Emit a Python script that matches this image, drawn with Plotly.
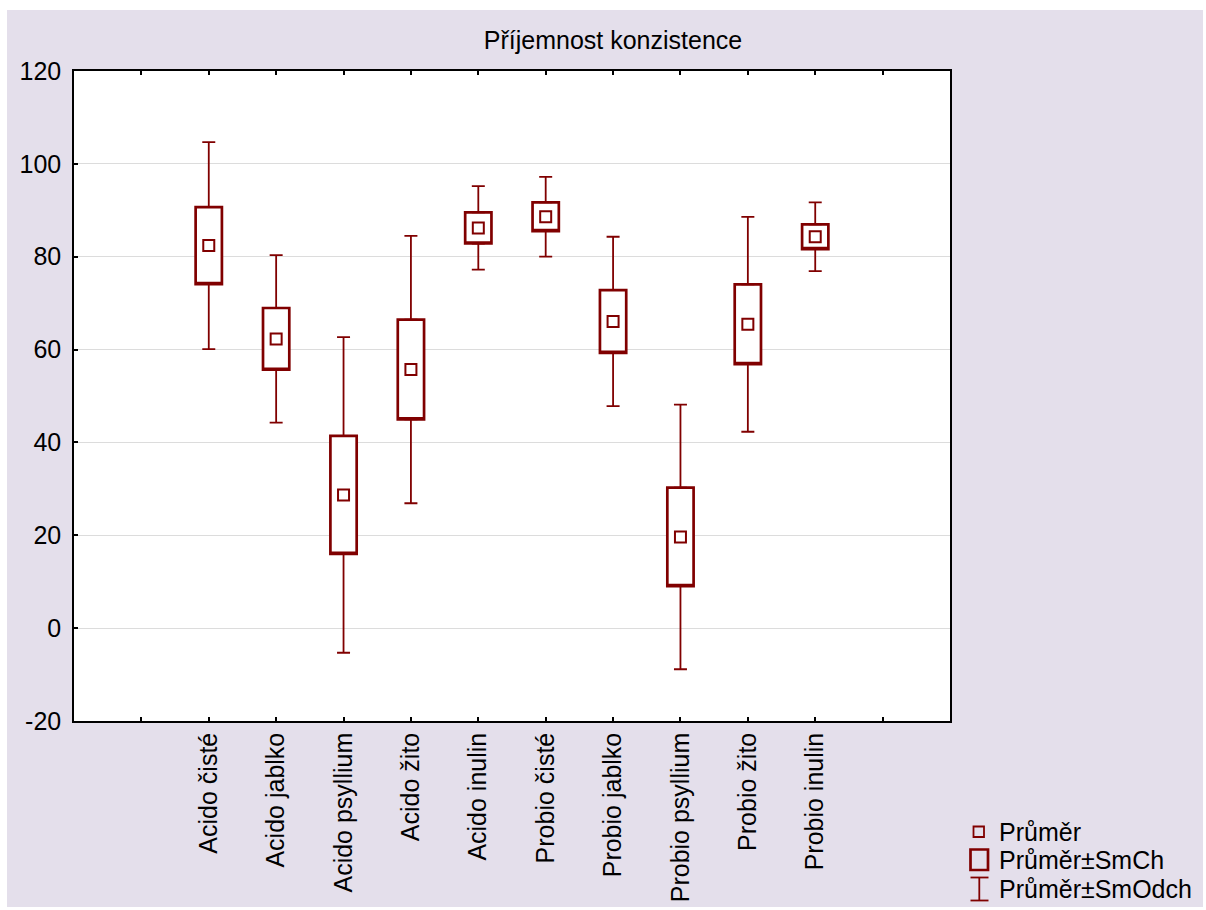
import plotly.graph_objects as go

# ---------------- data ----------------
categories = ['Acido čisté', 'Acido jablko', 'Acido psyllium', 'Acido žito', 'Acido inulin',
              'Probio čisté', 'Probio jablko', 'Probio psyllium', 'Probio žito', 'Probio inulin']
prumer = [82.4, 62.3, 28.7, 55.7, 86.2, 88.6, 66.05, 19.65, 65.45, 84.3]      # Průměr
sm_ch = [8.3, 6.65, 12.7, 10.75, 3.35, 3.1, 6.75, 10.6, 8.6, 2.65]             # SmCh
sm_odch = [22.3, 18.05, 34.0, 28.8, 9.0, 8.6, 18.25, 28.5, 23.15, 7.4]        # SmOdch
y_ticks = [-20, 0, 20, 40, 60, 80, 100, 120]
y_tick_text = ['-20', '0', '20', '40', '60', '80', '100', '120']
title_text = 'Příjemnost konzistence'
legend_labels = ['Průměr', 'Průměr±SmCh', 'Průměr±SmOdch']

# ---------------- layout constants ----------------
W, H = 1206, 910
ML, MR, MT, MB = 74, 256, 71, 189
PW, PH = W - ML - MR, H - MT - MB
MAROON = '#800000'
LAVENDER = '#E4DFEB'
FONT = 'Arial, Liberation Sans, sans-serif'
FS = 25


def px_x(p):
    return (p - ML) / PW


def px_y(p):
    return (H - MB - p) / PH


n = len(categories)
x_pos = list(range(2, 2 + n))
tick_vals = [1] + x_pos + [x_pos[-1] + 1]
tick_text = [''] + categories + ['']

lo_se = [m - s for m, s in zip(prumer, sm_ch)]
hi_se = [m + s for m, s in zip(prumer, sm_ch)]
ext = [d - s for d, s in zip(sm_odch, sm_ch)]

fig = go.Figure()

# box = mean ± SE
fig.add_trace(go.Box(
    x=x_pos, q1=lo_se, median=lo_se, q3=hi_se, lowerfence=lo_se, upperfence=hi_se,
    width=0.39, whiskerwidth=0, fillcolor='white',
    line=dict(color=MAROON, width=2.7), showlegend=False, hoverinfo='skip',
    boxpoints=False))

# whiskers = mean ± SD (drawn outside the box)
fig.add_trace(go.Scatter(
    x=x_pos, y=hi_se, mode='markers', marker=dict(size=1, color='rgba(0,0,0,0)'),
    error_y=dict(type='data', symmetric=False, array=ext, arrayminus=[0] * n,
                 color=MAROON, thickness=1.8, width=6.5),
    showlegend=False, hoverinfo='skip'))
fig.add_trace(go.Scatter(
    x=x_pos, y=lo_se, mode='markers', marker=dict(size=1, color='rgba(0,0,0,0)'),
    error_y=dict(type='data', symmetric=False, array=[0] * n, arrayminus=ext,
                 color=MAROON, thickness=1.8, width=6.5),
    showlegend=False, hoverinfo='skip'))

# mean marker
fig.add_trace(go.Scatter(
    x=x_pos, y=prumer, mode='markers',
    marker=dict(symbol='square', size=11, color='rgba(0,0,0,0)',
                line=dict(color=MAROON, width=2)),
    showlegend=False, name='Průměr'))

shapes = [
    dict(type='rect', xref='paper', yref='paper', x0=px_x(7), x1=px_x(1203),
         y0=px_y(907), y1=px_y(10), fillcolor=LAVENDER, line=dict(width=0), layer='below'),
    dict(type='rect', xref='paper', yref='paper', x0=0, x1=1, y0=0, y1=1,
         fillcolor='white', line=dict(width=0), layer='below'),
]

# manual legend icons
shapes.append(dict(type='rect', xref='paper', yref='paper', x0=px_x(973.5), x1=px_x(984),
                   y0=px_y(837), y1=px_y(826.5), line=dict(color=MAROON, width=1.8),
                   fillcolor='rgba(0,0,0,0)'))
shapes.append(dict(type='rect', xref='paper', yref='paper', x0=px_x(970.5), x1=px_x(988),
                   y0=px_y(870), y1=px_y(849.5), line=dict(color=MAROON, width=2.7),
                   fillcolor='rgba(0,0,0,0)'))
ib_c = 979.3
shapes.append(dict(type='line', xref='paper', yref='paper', x0=px_x(ib_c), x1=px_x(ib_c),
                   y0=px_y(900.5), y1=px_y(877.5), line=dict(color=MAROON, width=1.8)))
shapes.append(dict(type='line', xref='paper', yref='paper', x0=px_x(970.5), x1=px_x(988.5),
                   y0=px_y(877.5), y1=px_y(877.5), line=dict(color=MAROON, width=1.8)))
shapes.append(dict(type='line', xref='paper', yref='paper', x0=px_x(970.5), x1=px_x(988.5),
                   y0=px_y(900.5), y1=px_y(900.5), line=dict(color=MAROON, width=1.8)))

annotations = []
for lab, yc in zip(legend_labels, [831.7, 860.2, 889.0]):
    annotations.append(dict(text=lab, xref='paper', yref='paper', x=px_x(997), y=px_y(yc),
                            xanchor='left', yanchor='middle', showarrow=False,
                            font=dict(family=FONT, size=FS, color='black')))

fig.update_layout(
    width=W, height=H, autosize=False,
    margin=dict(l=ML, r=MR, t=MT, b=MB, pad=0),
    paper_bgcolor='white', plot_bgcolor='white',
    font=dict(family=FONT, size=FS, color='black'),
    showlegend=False,
    title=dict(text=title_text, xref='container', yref='container',
               x=613 / W, xanchor='center', y=1 - 40 / H, yanchor='middle',
               font=dict(family=FONT, size=FS, color='black')),
    shapes=shapes, annotations=annotations,
)
fig.update_xaxes(
    range=[0, 13], tickmode='array', tickvals=tick_vals, ticktext=tick_text,
    tickangle=-90, ticks='inside', ticklen=4, tickwidth=1.5, tickcolor='black',
    showline=True, linecolor='black', linewidth=1.5, mirror='ticks',
    showgrid=False, zeroline=False, automargin=False,
    tickfont=dict(family=FONT, size=FS, color='black'))
fig.update_yaxes(
    range=[-20, 120], tickmode='array', tickvals=y_ticks, ticktext=y_tick_text,
    ticks='inside', ticklen=4, tickwidth=1.5, tickcolor='black',
    showline=True, linecolor='black', linewidth=1.5, mirror=True,
    showgrid=True, gridcolor='#DCDCDC', gridwidth=1, zeroline=False, automargin=False,
    ticklabelstandoff=6,
    tickfont=dict(family=FONT, size=FS, color='black'))

fig.write_html('out.html')
